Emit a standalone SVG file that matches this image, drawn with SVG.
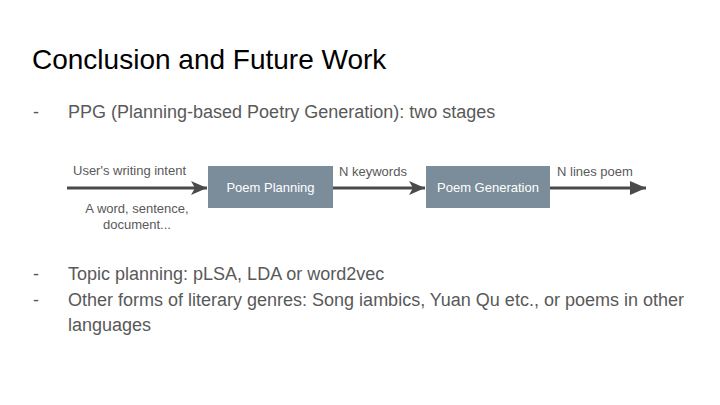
<svg xmlns="http://www.w3.org/2000/svg" width="720" height="405" viewBox="0 0 720 405">
<style>
.title{font-family:"Liberation Sans",Arial,sans-serif;font-size:28px;fill:#000}
.body{font-family:"Liberation Sans",Arial,sans-serif;font-size:18px;fill:#595959}
.lbl{font-family:"Liberation Sans",Arial,sans-serif;font-size:13px;fill:#595959}
.box{fill:#7b8d9a}
.boxt{font-family:"Liberation Sans",Arial,sans-serif;font-size:13px;fill:#fff;text-anchor:middle}
.line{stroke:#4a4a4a;stroke-width:3;fill:none}
</style>
<defs>
<marker id="barb" markerUnits="userSpaceOnUse" viewBox="0 0 16 14" refX="16" refY="7" markerWidth="16" markerHeight="14" orient="auto">
<path d="M0,0 L16,7 L0,14 L4,7 Z" fill="#4a4a4a"/>
</marker>
<marker id="tri" markerUnits="userSpaceOnUse" viewBox="0 0 16 14" refX="16" refY="7" markerWidth="16" markerHeight="14" orient="auto">
<path d="M0,0 L16,7 L0,14 Z" fill="#4a4a4a"/>
</marker>
</defs>
<rect width="720" height="405" fill="#fff"/>
<text class="title" x="32" y="69">Conclusion and Future Work</text>
<text class="body" x="33" y="118">-</text>
<text class="body" x="68" y="118">PPG (Planning-based Poetry Generation): two stages</text>
<g id="connectors">
<line class="line" x1="67" y1="188" x2="207" y2="188" marker-end="url(#barb)"/>
<line class="line" x1="333" y1="188" x2="425" y2="188" marker-end="url(#barb)"/>
<line class="line" x1="550" y1="188" x2="646" y2="188" marker-end="url(#tri)"/>
<text class="lbl" x="73" y="175">User's writing intent</text>
<text class="lbl" x="137" y="213" text-anchor="middle">A word, sentence,</text>
<text class="lbl" x="137" y="229" text-anchor="middle">document...</text>
<text class="lbl" x="339" y="176">N keywords</text>
<text class="lbl" x="557" y="176">N lines poem</text>
</g>
<g id="poem-planning">
<rect class="box" x="208" y="166" width="125" height="42"/>
<text class="boxt" x="270.5" y="192">Poem Planning</text>
</g>
<g id="poem-generation">
<rect class="box" x="426" y="166" width="124" height="42"/>
<text class="boxt" x="488" y="192">Poem Generation</text>
</g>
<text class="body" x="33" y="280">-</text>
<text class="body" x="68" y="280">Topic planning: pLSA, LDA or word2vec</text>
<text class="body" x="33" y="306">-</text>
<text class="body" x="68" y="306">Other forms of literary genres: Song iambics, Yuan Qu etc., or poems in other</text>
<text class="body" x="68" y="331">languages</text>
</svg>
